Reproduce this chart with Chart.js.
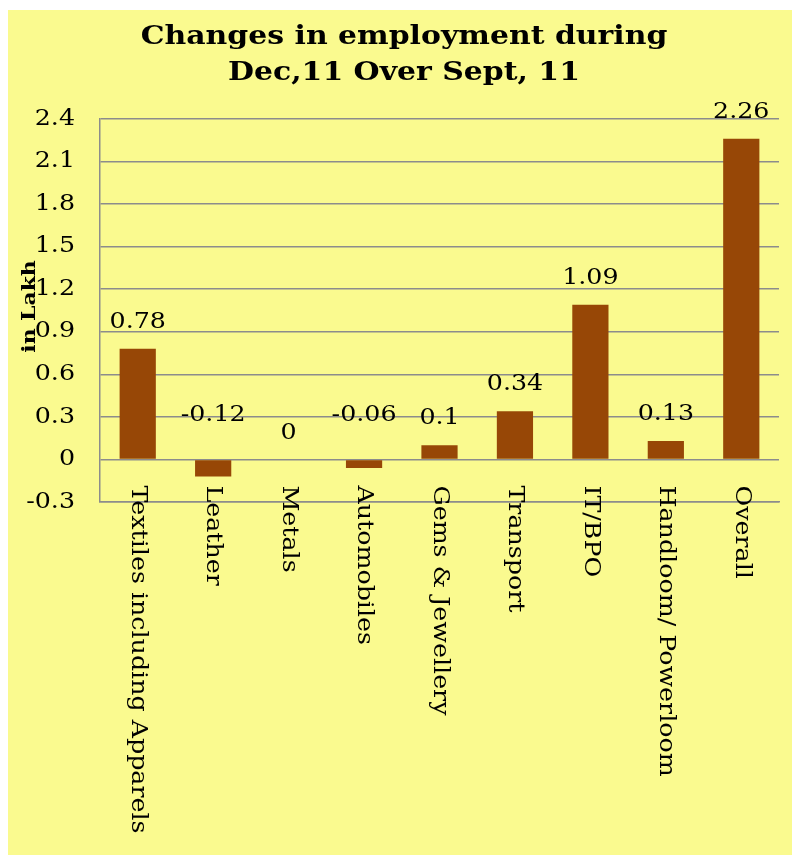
<!DOCTYPE html>
<html>
<head>
<meta charset="utf-8">
<script src="https://cdn.jsdelivr.net/npm/chart.js@4.4.1/dist/chart.umd.min.js"></script>
<style>
  html, body { margin: 0; padding: 0; background: #ffffff; }
  #wrap { position: absolute; left: 8px; top: 10px; width: 784px; height: 845px; background: #fafa8f; }
</style>
</head>
<body>
<div id="wrap"><canvas id="chart"></canvas></div>
<script>
const categories = ['Textiles including Apparels', 'Leather', 'Metals', 'Automobiles', 'Gems & Jewellery', 'Transport', 'IT/BPO', 'Handloom/ Powerloom', 'Overall'];
const changes = [0.78, -0.12, 0, -0.06, 0.1, 0.34, 1.09, 0.13, 2.26];
const yTicks = [-0.3, 0, 0.3, 0.6, 0.9, 1.2, 1.5, 1.8, 2.1, 2.4];
const titleLines = ['Changes in employment during', 'Dec,11 Over Sept, 11'];

const serif = "'DejaVu Serif', serif";
const gridGray = '#8c8c8c';
const stretch = 1.15; // the original face is wider than DejaVu Serif

// write text stretched along its reading direction
function wideText(ctx, text, x, y, angle, align) {
  ctx.save();
  ctx.translate(x, y);
  ctx.rotate(angle);
  ctx.scale(stretch, 1);
  ctx.textAlign = align;
  ctx.fillText(text, 0, 0);
  ctx.restore();
}

const annotate = {
  id: 'annotate',
  afterDraw(chart) {
    const ctx = chart.ctx;
    const area = chart.chartArea;
    const y = chart.scales.y;
    const zero = y.getPixelForValue(0);
    const bars = chart.getDatasetMeta(0).data;
    ctx.save();
    ctx.fillStyle = '#000';

    // title
    ctx.font = 'bold 26px ' + serif;
    ctx.textBaseline = 'alphabetic';
    const cx = chart.width / 2 + 4;
    wideText(ctx, titleLines[0], cx, 34, 0, 'center');
    wideText(ctx, titleLines[1], cx, 70, 0, 'center');

    ctx.textBaseline = 'middle';
    ctx.font = '22px ' + serif;

    // y tick labels
    yTicks.forEach(v => {
      wideText(ctx, String(v), area.left - 25, y.getPixelForValue(v), 0, 'right');
    });

    // value labels
    bars.forEach((bar, i) => {
      const v = changes[i];
      const ly = v > 0 ? bar.y - 27 : (v === 0 ? zero - 26 : zero - 44);
      wideText(ctx, String(v), bar.x, ly, 0, 'center');
    });

    // category labels, reading downwards
    bars.forEach((bar, i) => {
      wideText(ctx, categories[i], bar.x, zero + 26, Math.PI / 2, 'left');
    });

    // y axis title
    ctx.font = 'bold 19px ' + serif;
    wideText(ctx, 'in Lakh', area.left - 70, (area.top + area.bottom) / 2 - 4, -Math.PI / 2, 'center');
    ctx.restore();
  }
};

new Chart(document.getElementById('chart'), {
  type: 'bar',
  data: {
    labels: categories,
    datasets: [{
      label: 'Change',
      data: changes,
      backgroundColor: '#974706',
      barPercentage: 0.48,
      categoryPercentage: 1
    }]
  },
  options: {
    responsive: true,
    maintainAspectRatio: false,
    animation: false,
    layout: { padding: { left: 0, right: 13, top: 109, bottom: 353 } },
    plugins: {
      legend: { display: false },
      tooltip: { enabled: false },
      title: { display: false }
    },
    scales: {
      x: {
        grid: { display: false },
        border: { display: true, color: gridGray, width: 1.5 },
        ticks: { display: false },
        afterFit(scale) { scale.height = 0; }
      },
      y: {
        min: -0.3,
        max: 2.4,
        afterBuildTicks(scale) {
          scale.ticks = yTicks.map(v => ({ value: v }));
        },
        afterFit(scale) { scale.width = 92; },
        ticks: { display: false },
        grid: { color: gridGray, lineWidth: 1.5, drawTicks: false },
        border: { display: true, color: gridGray, width: 1.5 }
      }
    }
  },
  plugins: [annotate]
});
</script>
</body>
</html>
